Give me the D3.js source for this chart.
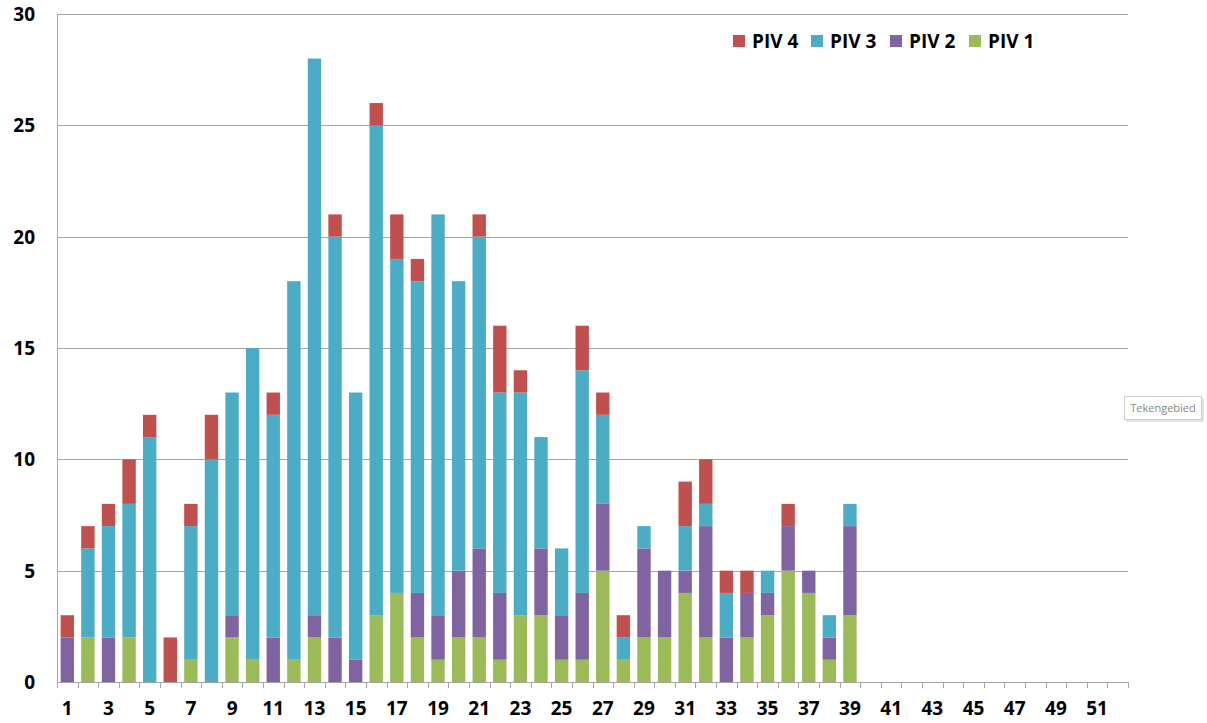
<!DOCTYPE html>
<html><head><meta charset="utf-8">
<script src="https://cdn.jsdelivr.net/npm/d3@7"></script>
<style>body{margin:0;background:#fff}</style>
</head><body>
<svg id="c" width="1207" height="723"></svg>
<script>
const categories = d3.range(1, 53).map(String);
const piv1 = [0,2,0,2,0,0,1,0,2,1,0,1,2,0,0,3,4,2,1,2,2,1,3,3,1,1,5,1,2,2,4,2,0,2,3,5,4,1,3,0,0,0,0,0,0,0,0,0,0,0,0,0];
const piv2 = [2,0,2,0,0,0,0,0,1,0,2,0,1,2,1,0,0,2,2,3,4,3,0,3,2,3,3,0,4,3,1,5,2,2,1,2,1,1,4,0,0,0,0,0,0,0,0,0,0,0,0,0];
const piv3 = [0,4,5,6,11,0,6,10,10,14,10,17,25,18,12,22,15,14,18,13,14,9,10,5,3,10,4,1,1,0,2,1,2,0,1,0,0,1,1,0,0,0,0,0,0,0,0,0,0,0,0,0];
const piv4 = [1,1,1,2,1,2,1,2,0,0,1,0,0,1,0,1,2,1,0,0,1,3,1,0,0,2,1,1,0,0,2,2,1,1,0,1,0,0,0,0,0,0,0,0,0,0,0,0,0,0,0,0];
const seriesNames = ["PIV 1","PIV 2","PIV 3","PIV 4"];
const colors = ["#9BBB59","#8064A2","#4BACC6","#C0504D"];
const yTicks = [0,5,10,15,20,25,30];

const svg = d3.select("#c");
const L=57, R=1128, T=14, B=682;
const x = d3.scaleBand().domain(categories).range([L,R]).paddingInner(0.35).paddingOuter(0.175);
const xc = d3.scaleBand().domain(categories).range([L,R]);
const y = d3.scaleLinear().domain([0,30]).range([B,T]);

// gridlines
svg.append("g").selectAll("line").data(yTicks.filter(d=>d>0)).join("line")
  .attr("x1",L).attr("x2",R).attr("y1",d=>Math.round(y(d))+0.5).attr("y2",d=>Math.round(y(d))+0.5)
  .attr("stroke","#a6a6a6").attr("stroke-width",1);

const table = categories.map((c,i)=>({cat:c,"PIV 1":piv1[i],"PIV 2":piv2[i],"PIV 3":piv3[i],"PIV 4":piv4[i]}));
const stack = d3.stack().keys(seriesNames)(table);
svg.append("g").selectAll("g").data(stack).join("g")
  .attr("fill",(d,i)=>colors[i])
  .selectAll("rect").data(d=>d.filter(p=>p[1]-p[0]>0)).join("rect")
  .attr("x",d=>x(d.data.cat)).attr("width",x.bandwidth())
  .attr("y",d=>y(d[1])).attr("height",d=>y(d[0])-y(d[1]));

// y axis line
svg.append("line").attr("x1",L+0.5).attr("x2",L+0.5).attr("y1",T).attr("y2",B).attr("stroke","#a6a6a6");
// x axis line + ticks
svg.append("line").attr("x1",L).attr("x2",R+1).attr("y1",B+0.5).attr("y2",B+0.5).attr("stroke","#a6a6a6");
const bounds = categories.map(c=>xc(c)).concat([R]);
svg.append("g").selectAll("line").data(bounds).join("line")
  .attr("x1",d=>Math.round(d)+0.5).attr("x2",d=>Math.round(d)+0.5).attr("y1",B).attr("y2",B+6)
  .attr("stroke","#a6a6a6");

const font = "'Open Sans', 'DejaVu Sans', sans-serif";
// y labels
svg.append("g").selectAll("text").data(yTicks).join("text")
  .attr("x",35).attr("y",d=>y(d)+7).attr("text-anchor","end")
  .attr("font-family",font).attr("font-weight","bold").attr("font-size",19).attr("fill","#000")
  .text(d=>d);
// x labels
svg.append("g").selectAll("text").data(categories.filter((c,i)=>i%2===0)).join("text")
  .attr("x",d=>xc(d)+xc.bandwidth()/2).attr("y",715).attr("text-anchor","middle")
  .attr("font-family",font).attr("font-weight","bold").attr("font-size",19).attr("fill","#000")
  .text(d=>d);

// legend
const legendOrder = [3,2,1,0];
const legX = [733,811,890,969];
const lg = svg.append("g").selectAll("g").data(legendOrder).join("g")
  .attr("transform",(d,i)=>`translate(${legX[i]},35)`);
lg.append("rect").attr("width",12).attr("height",12).attr("fill",d=>colors[d]);
lg.append("text").attr("x",19).attr("y",13).attr("font-family",font).attr("font-weight","bold")
  .attr("font-size",19).text(d=>seriesNames[d]);

// tooltip
const tt = svg.append("g").attr("transform","translate(1124,396)");
tt.append("rect").attr("x",2).attr("y",2).attr("width",78).attr("height",24).attr("fill","#e4e4e4");
tt.append("rect").attr("x",0.5).attr("y",0.5).attr("width",77).attr("height",23).attr("fill","#fff").attr("stroke","#cfcfcf");
tt.append("text").attr("x",39).attr("y",16).attr("text-anchor","middle").attr("font-family","'Open Sans', sans-serif")
  .attr("font-size",11).attr("fill","#888").text("Tekengebied");
</script>
</body></html>
